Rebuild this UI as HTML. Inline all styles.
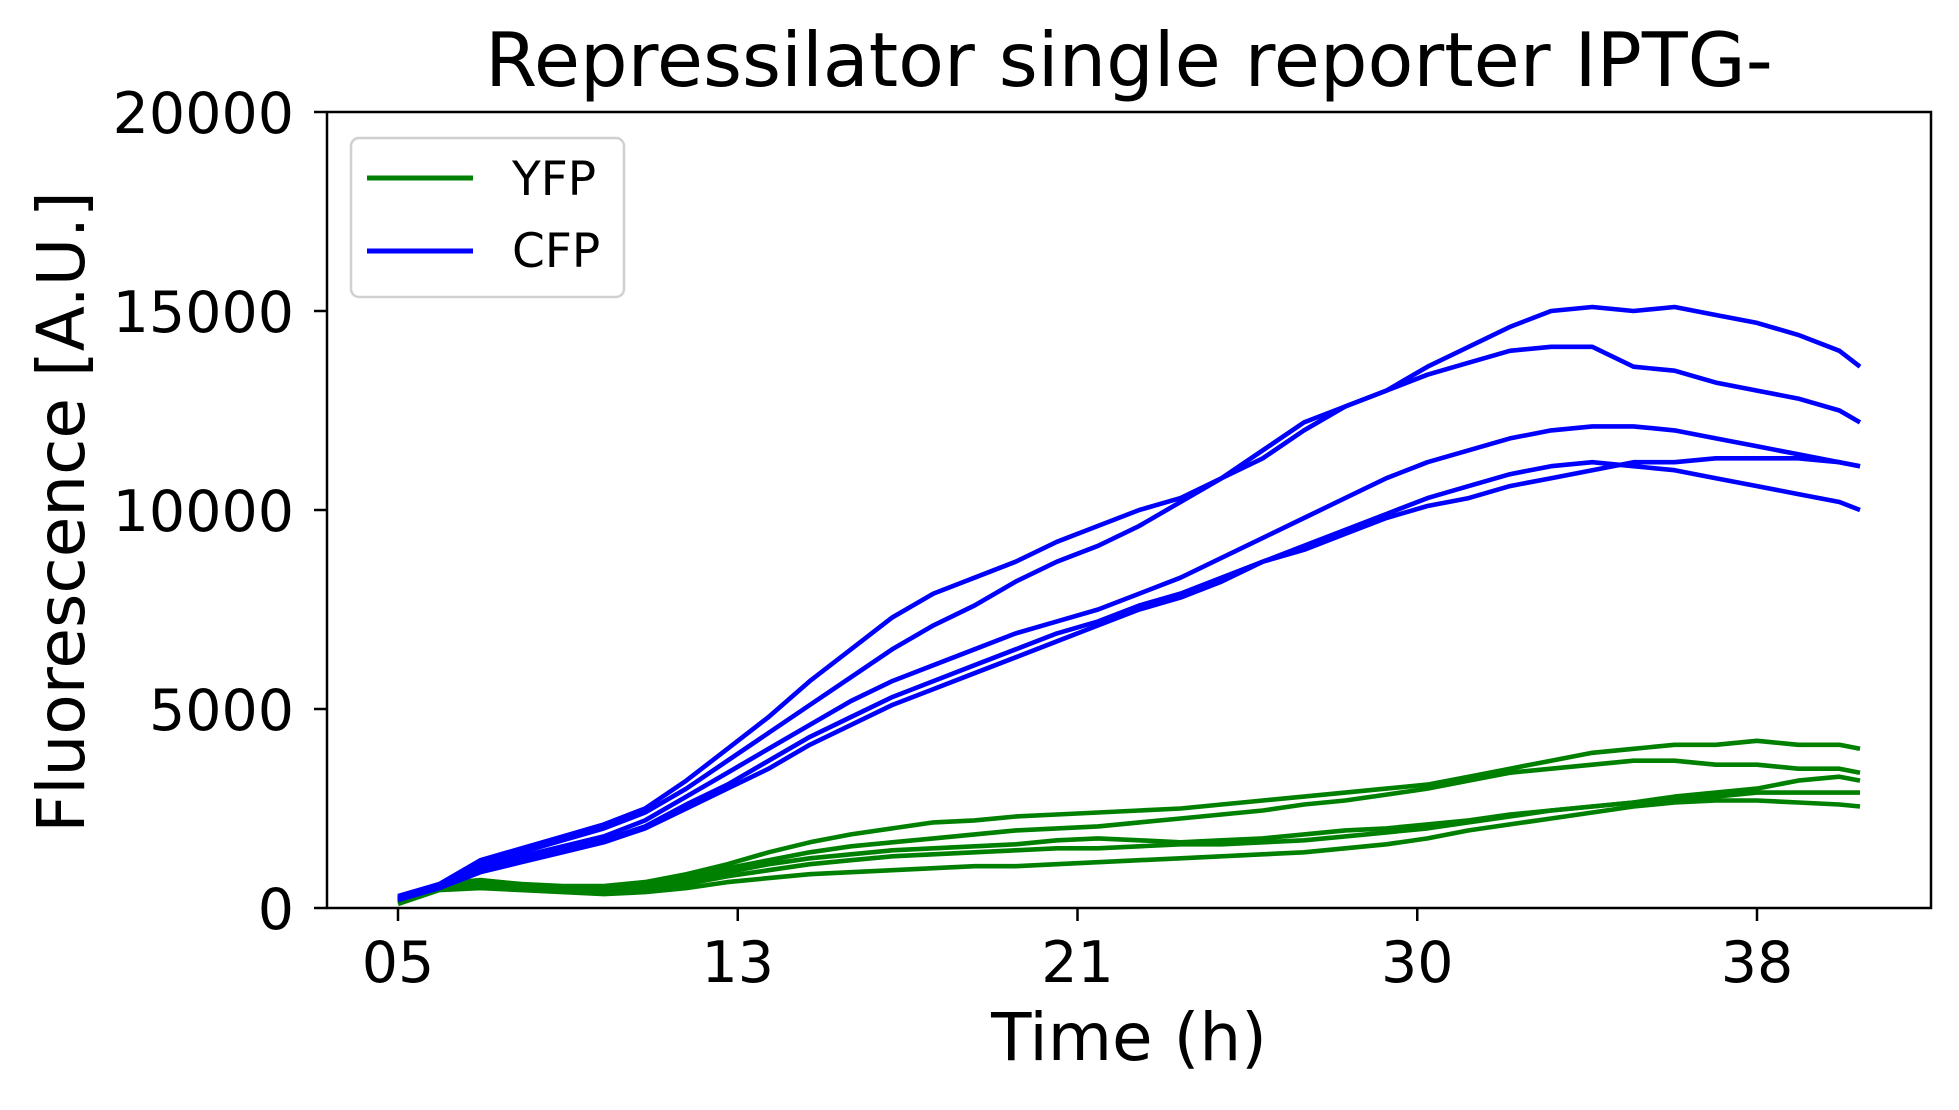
<!DOCTYPE html>
<html><head><meta charset="utf-8"><style>
html,body{margin:0;padding:0;background:#fff;}
svg text{font-family:"DejaVu Sans","Liberation Sans",sans-serif;fill:#000;}
</style></head><body>
<svg id="chart" width="1959" height="1105" viewBox="0 0 1959 1105" xmlns="http://www.w3.org/2000/svg">
<rect width="1959" height="1105" fill="#fff"/>
<text x="1129" y="86" font-size="75" text-anchor="middle">Repressilator single reporter IPTG-</text>
<g id="plot"></g>
<g id="axes"></g>
<text x="1129" y="1060" font-size="66" text-anchor="middle">Time (h)</text>
<text transform="translate(84,512) rotate(-90)" font-size="66" text-anchor="middle">Fluorescence [A.U.]</text>
<g>
<rect x="351" y="138" width="273" height="159" rx="8" fill="#fff" stroke="#d0d0d0" stroke-width="2.5"/>
<line x1="367" y1="178" x2="473" y2="178" stroke="#008000" stroke-width="5"/>
<text x="512" y="195" font-size="47">YFP</text>
<line x1="367" y1="251" x2="473" y2="251" stroke="#0000ff" stroke-width="5"/>
<text x="512" y="267" font-size="47">CFP</text>
</g>
</svg>
<script>
const times=[5,6,7,8,9,10,11,12,13,14,15,16,17,18,19,20,21,22,23,24,25,26,27,28,29,30,31,32,33,34,35,36,37,38,39,40,40.5];
const cfp1=[300,600,1200,1500,1800,2100,2500,3200,4000,4800,5700,6500,7300,7900,8300,8700,9200,9600,10000,10300,10800,11300,12000,12600,13000,13600,14100,14600,15000,15100,15000,15100,14900,14700,14400,14000,13600];
const cfp2=[250,550,1100,1400,1700,2000,2400,3000,3700,4400,5100,5800,6500,7100,7600,8200,8700,9100,9600,10200,10800,11500,12200,12600,13000,13400,13700,14000,14100,14100,13600,13500,13200,13000,12800,12500,12200];
const cfp3=[250,550,1000,1300,1550,1800,2200,2800,3400,4000,4600,5200,5700,6100,6500,6900,7200,7500,7900,8300,8800,9300,9800,10300,10800,11200,11500,11800,12000,12100,12100,12000,11800,11600,11400,11200,11100];
const cfp4=[250,500,950,1200,1450,1700,2050,2600,3100,3700,4300,4800,5300,5700,6100,6500,6900,7200,7600,7900,8300,8700,9100,9500,9900,10300,10600,10900,11100,11200,11100,11000,10800,10600,10400,10200,10000];
const cfp5=[200,500,900,1150,1400,1650,2000,2500,3000,3500,4100,4600,5100,5500,5900,6300,6700,7100,7500,7800,8200,8700,9000,9400,9800,10100,10300,10600,10800,11000,11200,11200,11300,11300,11300,11200,11100];
const yfp1=[200,600,700,600,550,550,650,850,1100,1400,1650,1850,2000,2150,2200,2300,2350,2400,2450,2500,2600,2700,2800,2900,3000,3100,3300,3500,3700,3900,4000,4100,4100,4200,4100,4100,4000];
const yfp2=[150,550,650,550,500,500,600,800,1000,1200,1400,1550,1650,1750,1850,1950,2000,2050,2150,2250,2350,2450,2600,2700,2850,3000,3200,3400,3500,3600,3700,3700,3600,3600,3500,3500,3400];
const yfp3=[150,500,600,500,450,450,550,700,900,1100,1250,1350,1450,1500,1550,1600,1700,1750,1700,1650,1700,1750,1850,1950,2000,2100,2200,2350,2450,2550,2650,2800,2900,3000,3200,3300,3200];
const yfp4=[150,500,550,500,450,400,450,600,800,950,1100,1200,1300,1350,1400,1450,1500,1500,1550,1600,1600,1650,1700,1800,1900,2000,2150,2300,2450,2550,2650,2750,2800,2900,2900,2900,2900];
const yfp5=[100,450,500,450,400,350,400,500,650,750,850,900,950,1000,1050,1050,1100,1150,1200,1250,1300,1350,1400,1500,1600,1750,1950,2100,2250,2400,2550,2650,2700,2700,2650,2600,2550];
const xTickHours=[5,13.25,21.5,29.75,38];
const xTickLabels=["05","13","21","30","38"];
const yTicks=[0,5000,10000,15000,20000];

const NS="http://www.w3.org/2000/svg";
const L=327,R=1931,T=112,B=908;
function xs(h){return 398+(h-5)*(1757-398)/33;}
function ys(v){return B-(v/20000)*(B-T);}
const plot=document.getElementById('plot');
const axes=document.getElementById('axes');
function mk(tag,attrs,parent){const e=document.createElementNS(NS,tag);for(const k in attrs)e.setAttribute(k,attrs[k]);parent.appendChild(e);return e;}
const series=[[yfp1,'#008000','yfp-series-1'],[yfp2,'#008000','yfp-series-2'],[yfp3,'#008000','yfp-series-3'],[yfp4,'#008000','yfp-series-4'],[yfp5,'#008000','yfp-series-5'],
[cfp1,'#0000ff','cfp-series-1'],[cfp2,'#0000ff','cfp-series-2'],[cfp3,'#0000ff','cfp-series-3'],[cfp4,'#0000ff','cfp-series-4'],[cfp5,'#0000ff','cfp-series-5']];
series.forEach(s=>{
  const d=s[0].map((v,i)=>(i?'L':'M')+xs(times[i]).toFixed(1)+' '+ys(v).toFixed(1)).join(' ');
  const p=mk('path',{d:d,fill:'none',stroke:s[1],'stroke-width':4.6,'stroke-linejoin':'round'},plot);
  
  
});
const frame=mk('rect',{x:L,y:T,width:R-L,height:B-T,fill:'none',stroke:'#000','stroke-width':2.5},axes);


xTickHours.forEach((h,i)=>{
  const x=xs(h);
  const t=mk('line',{x1:x,y1:B,x2:x,y2:B+13,stroke:'#000','stroke-width':2.5},axes);
  
  
  const tx=mk('text',{x:x,y:982,'font-size':57,'text-anchor':'middle'},axes);
  tx.textContent=xTickLabels[i];
  
  
});
yTicks.forEach(v=>{
  const y=ys(v);
  const t=mk('line',{x1:L-13,y1:y,x2:L,y2:y,stroke:'#000','stroke-width':2.5},axes);
  
  
  const tx=mk('text',{x:294,y:y+21,'font-size':57,'text-anchor':'end'},axes);
  tx.textContent=String(v);
  
  
});
</script>
</body></html>
